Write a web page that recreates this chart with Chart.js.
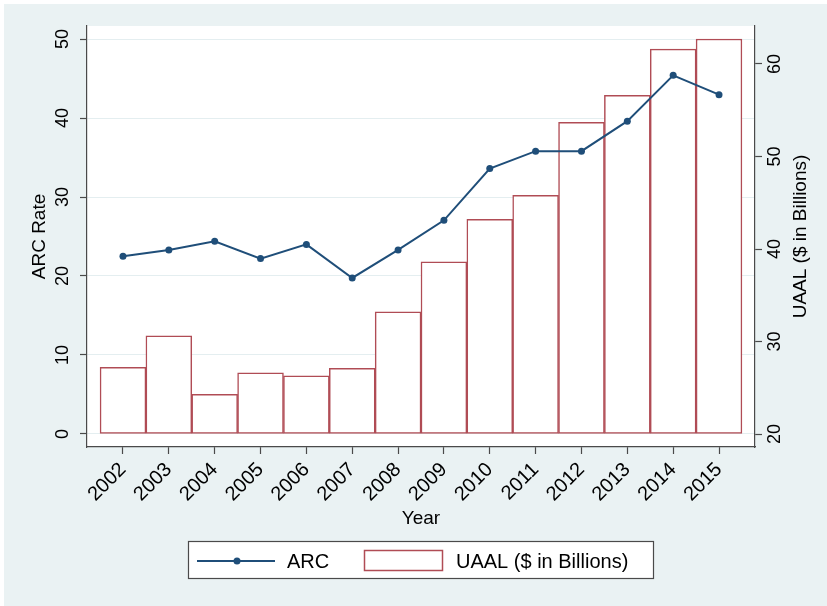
<!DOCTYPE html>
<html>
<head>
<meta charset="utf-8">
<title>ARC Rate and UAAL</title>
<script src="https://cdn.jsdelivr.net/npm/chart.js@4"></script>
<style>
  html, body { margin: 0; padding: 0; background: #fff; }
  #wrap { position: absolute; left: 4px; top: 4px; width: 823px; height: 602px; background: #eaf2f3; }
</style>
</head>
<body>
<div id="wrap"><canvas id="chart" width="823" height="602"></canvas></div>
<script>
const years = [2002, 2003, 2004, 2005, 2006, 2007, 2008, 2009, 2010, 2011, 2012, 2013, 2014, 2015];
const arcRate = [22.5, 23.3, 24.4, 22.2, 24.0, 19.75, 23.3, 27.05, 33.6, 35.8, 35.8, 39.6, 45.4, 42.95];
const uaal = [27.2, 30.6, 24.3, 26.6, 26.3, 27.1, 33.2, 38.6, 43.2, 45.8, 53.7, 56.6, 61.6, 62.7];
const arcTicks = [0, 10, 20, 30, 40, 50];
const uaalTicks = [20, 30, 40, 50, 60];
const uaalBase = 20;

const NAVY = '#1f4e79';
const MAROON = '#b04c55';
const AXIS = '#4a4a4a';
const FONT = '"Liberation Sans", Arial, sans-serif';

Chart.defaults.font.family = FONT;
Chart.defaults.color = '#000';

const drawUp = (ctx, text, x, y) => {
  ctx.save();
  ctx.translate(x, y);
  ctx.rotate(-Math.PI / 2);
  ctx.textAlign = 'center';
  ctx.textBaseline = 'middle';
  ctx.fillText(text, 0, 0);
  ctx.restore();
};

const plotBackground = {
  id: 'plotBackground',
  beforeDraw(chart) {
    const { ctx, chartArea: a } = chart;
    ctx.save();
    ctx.fillStyle = '#fff';
    ctx.fillRect(a.left, a.top, a.right - a.left, a.bottom - a.top);
    ctx.restore();
  },
};

const stataText = {
  id: 'stataText',
  afterDraw(chart) {
    const { ctx, chartArea: a, scales } = chart;
    const midY = (a.top + a.bottom) / 2;
    ctx.save();
    ctx.fillStyle = '#000';

    ctx.font = `18px ${FONT}`;
    arcTicks.forEach((v) => drawUp(ctx, String(v), 59.5, scales.y.getPixelForValue(v)));
    uaalTicks.forEach((v) => drawUp(ctx, String(v), 771.5, scales.y1.getPixelForValue(v)));

    ctx.font = `19px ${FONT}`;
    drawUp(ctx, 'ARC Rate', 36, midY);
    drawUp(ctx, 'UAAL ($ in Billions)', 797, midY);
    ctx.textAlign = 'center';
    ctx.textBaseline = 'middle';
    ctx.fillText('Year', (a.left + a.right) / 2, 515);

    // legend
    ctx.fillStyle = '#fff';
    ctx.fillRect(184, 537, 465, 37);
    ctx.strokeStyle = AXIS;
    ctx.lineWidth = 1.2;
    ctx.strokeRect(184.5, 537.5, 465, 37);

    ctx.strokeStyle = NAVY;
    ctx.lineWidth = 2;
    ctx.beginPath();
    ctx.moveTo(193, 557);
    ctx.lineTo(271, 557);
    ctx.stroke();
    ctx.fillStyle = NAVY;
    ctx.beginPath();
    ctx.arc(233, 557, 3.5, 0, Math.PI * 2);
    ctx.fill();

    ctx.strokeStyle = MAROON;
    ctx.lineWidth = 1.5;
    ctx.strokeRect(360.5, 546.5, 78, 20);

    ctx.fillStyle = '#000';
    ctx.textAlign = 'left';
    ctx.font = `20px ${FONT}`;
    ctx.fillText('ARC', 283, 558);
    ctx.fillText('UAAL ($ in Billions)', 452, 558);
    ctx.restore();
  },
};

new Chart(document.getElementById('chart'), {
  type: 'bar',
  data: {
    datasets: [
      {
        type: 'line',
        label: 'ARC',
        data: years.map((x, i) => ({ x, y: arcRate[i] })),
        yAxisID: 'y',
        borderColor: NAVY,
        backgroundColor: NAVY,
        borderWidth: 2,
        pointRadius: 3.5,
        pointBorderWidth: 0,
        pointBackgroundColor: NAVY,
        tension: 0,
        order: 0,
      },
      {
        type: 'bar',
        label: 'UAAL ($ in Billions)',
        data: years.map((x, i) => ({ x, y: uaal[i] })),
        yAxisID: 'y1',
        base: uaalBase,
        backgroundColor: '#fff',
        borderColor: MAROON,
        borderWidth: 1.5,
        borderSkipped: false,
        barPercentage: 1,
        categoryPercentage: 1,
        order: 1,
      },
    ],
  },
  options: {
    responsive: false,
    animation: false,
    layout: { padding: { top: 22, bottom: 59, left: 0, right: 0 } },
    plugins: { legend: { display: false }, tooltip: { enabled: false } },
    scales: {
      x: {
        type: 'linear',
        offset: false,
        min: 2001.215,
        max: 2015.785,
        afterBuildTicks: (scale) => { scale.ticks = years.map((v) => ({ value: v })); },
        afterFit: (scale) => { scale.height = 100; },
        ticks: {
          autoSkip: false,
          minRotation: 45,
          maxRotation: 45,
          padding: 4,
          font: { size: 20 },
          color: '#000',
          callback: (v) => String(v),
        },
        grid: { drawOnChartArea: false, offset: false, tickLength: 7, tickColor: AXIS, tickWidth: 1.2 },
        border: { color: AXIS, width: 1.2 },
      },
      y: {
        position: 'left',
        min: -1.646,
        max: 51.646,
        afterBuildTicks: (scale) => { scale.ticks = arcTicks.map((v) => ({ value: v })); },
        afterFit: (scale) => { scale.width = 83; },
        ticks: { display: false },
        grid: { color: '#e4eef0', lineWidth: 1, tickLength: 7, tickColor: AXIS, tickWidth: 1.2 },
        border: { color: AXIS, width: 1.2 },
      },
      y1: {
        position: 'right',
        min: 18.595,
        max: 64.108,
        afterBuildTicks: (scale) => { scale.ticks = uaalTicks.map((v) => ({ value: v })); },
        afterFit: (scale) => { scale.width = 72; },
        ticks: { display: false },
        grid: { drawOnChartArea: false, tickLength: 7, tickColor: AXIS, tickWidth: 1.2 },
        border: { color: AXIS, width: 1.2 },
      },
    },
  },
  plugins: [plotBackground, stataText],
});
</script>
</body>
</html>
